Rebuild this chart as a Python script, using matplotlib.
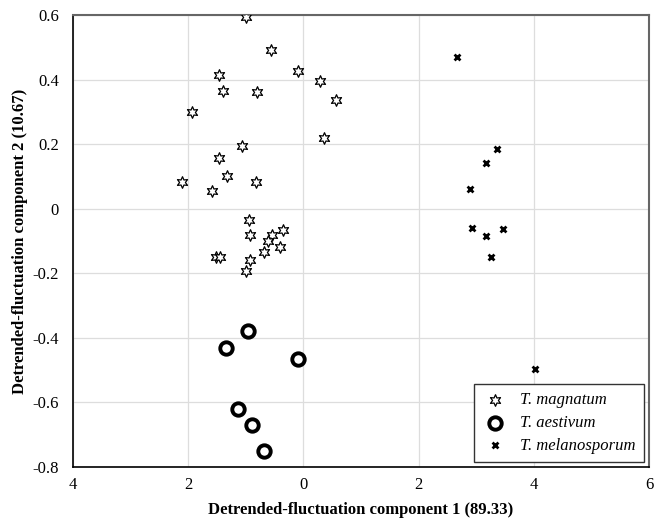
import numpy as np
import matplotlib.pyplot as plt

# T. magnatum
mag_x = [-0.99, -0.57, -0.09, 0.29, 0.57, 0.35, -1.46, -1.40, -0.81, -1.94,
         -1.06, -1.46, -1.32, -2.10, -0.83, -1.58, -0.95, -0.92, -0.36, -0.54,
         -0.61, -0.40, -0.69, -0.92, -1.52, -1.45, -0.99]
mag_y = [0.595, 0.493, 0.428, 0.397, 0.338, 0.220, 0.415, 0.363, 0.360, 0.300,
         0.195, 0.158, 0.100, 0.084, 0.084, 0.056, -0.034, -0.081, -0.065, -0.081,
         -0.099, -0.118, -0.133, -0.158, -0.149, -0.149, -0.192]

# T. aestivum
aes_x = [-0.97, -1.35, -0.10, -1.14, -0.90, -0.69]
aes_y = [-0.378, -0.431, -0.465, -0.620, -0.670, -0.750]

# T. melanosporum
mel_x = [2.67, 3.36, 3.17, 2.89, 2.93, 3.17, 3.47, 3.26, 4.02]
mel_y = [0.471, 0.186, 0.143, 0.062, -0.059, -0.084, -0.062, -0.149, -0.496]

xticks = [-4, -2, 0, 2, 4, 6]
xtick_labels = ["4", "2", "0", "2", "4", "6"]
yticks = [-0.8, -0.6, -0.4, -0.2, 0, 0.2, 0.4, 0.6]
ytick_labels = ["-0.8", "-0.6", "-0.4", "-0.2", "0", "0.2", "0.4", "0.6"]

plt.rcParams['font.family'] = ['Liberation Serif', 'DejaVu Serif']

fig = plt.figure(figsize=(6.54, 5.2), dpi=100)
ax = fig.add_axes([0.1116, 0.1019, 0.8808, 0.8693])

ax.scatter(mag_x, mag_y, marker=(6, 1, 0), s=70, facecolors='white',
           edgecolors='black', linewidths=0.9, label='T. magnatum', zorder=3)
ax.scatter(aes_x, aes_y, marker='o', s=80, facecolors='white',
           edgecolors='black', linewidths=2.8, label='T. aestivum', zorder=3)
ax.scatter(mel_x, mel_y, marker='x', s=18, color='black',
           linewidths=2.0, label='T. melanosporum', zorder=3)

ax.set_xlim(-4, 6)
ax.set_ylim(-0.8, 0.6)
ax.set_xticks(xticks)
ax.set_xticklabels(xtick_labels)
ax.set_yticks(yticks)
ax.set_yticklabels(ytick_labels)
ax.tick_params(axis='x', length=0, labelsize=12, pad=7)
ax.tick_params(axis='y', length=0, labelsize=12, pad=10)
ax.grid(True, color='#dddddd', linewidth=0.9)
ax.set_axisbelow(True)

for side in ['left', 'bottom']:
    ax.spines[side].set_color('black')
    ax.spines[side].set_linewidth(1.2)
for side in ['top', 'right']:
    ax.spines[side].set_color('#666666')
    ax.spines[side].set_linewidth(1.5)

ax.set_xlabel('Detrended-fluctuation component 1 (89.33)', fontsize=12,
              fontweight='bold', labelpad=7)
ax.set_ylabel('Detrended-fluctuation component 2 (10.67)', fontsize=12,
              fontweight='bold', labelpad=3)

leg = ax.legend(loc='lower right', prop={'style': 'italic', 'size': 12},
                fancybox=False, edgecolor='#333333', framealpha=1,
                borderaxespad=0.3, handletextpad=0.7, labelspacing=0.4,
                borderpad=0.5, handlelength=1.6)
leg.get_frame().set_linewidth(1.0)

fig.savefig('out.png', dpi=100)
